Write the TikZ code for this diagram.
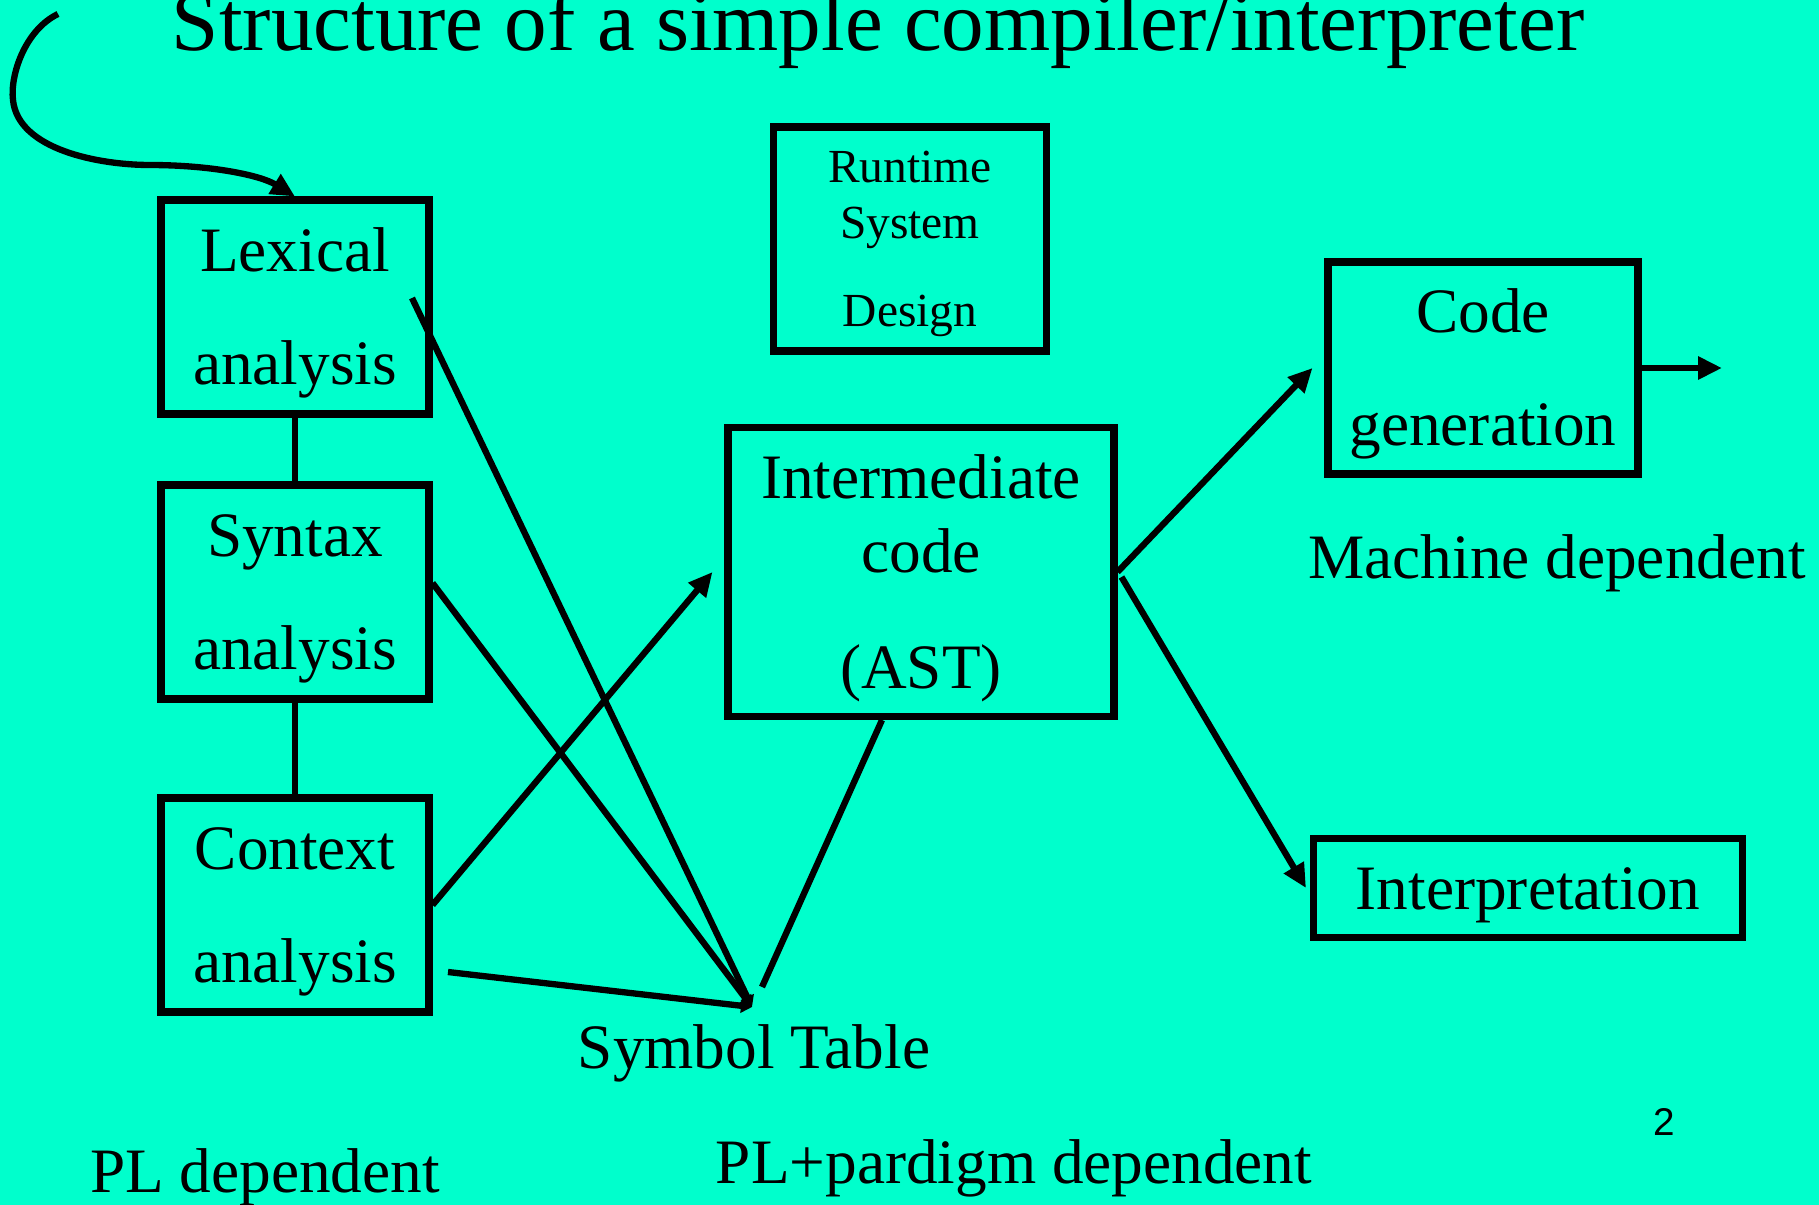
\documentclass[tikz,border=0pt]{standalone}
\usepackage{fontspec}
\setmainfont{Liberation Serif}
\newfontfamily\pagefont{Liberation Sans}
\usepackage{tikz}
\usetikzlibrary{arrows.meta,positioning,calc}
\definecolor{slidebg}{RGB}{0,255,204}
\newcommand{\phasestrut}{\rule{0pt}{0.88em}}

\begin{document}
\begin{tikzpicture}[
    x=0.1mm, y=-0.1mm,
    phase/.style={draw, line width=2pt, inner sep=0pt, align=center, font=\fontsize{18}{32}\selectfont},
    link/.style={line width=1.8pt},
    arrow/.style={line width=1.8pt, -{Triangle[length=2.4mm, width=2.2mm]}},
    tiny/.style={line width=1.8pt, -{Triangle[length=1.1mm, width=1.4mm]}},
    caption/.style={anchor=base, font=\fontsize{18}{22}\selectfont},
]
    \fill[slidebg] (0,0) rectangle (1819,1205);
    \useasboundingbox (0,0) rectangle (1819,1205);

    % Title
    \node[anchor=base, font=\fontsize{24.2}{28}\selectfont] (title) at (878,50) {Structure of a simple compiler/interpreter};

    % Front end
    \node[phase, minimum width=26.8mm, minimum height=21.4mm] (lexical) at (295,307) {\phasestrut Lexical\\analysis};
    \node[phase, minimum width=26.8mm, minimum height=21.4mm] (syntax) at (295,592) {\phasestrut Syntax\\analysis};
    \node[phase, minimum width=26.8mm, minimum height=21.4mm] (context) at (295,905) {\phasestrut Context\\analysis};

    % Middle
    \node[phase, minimum width=27.3mm, minimum height=22.4mm, font=\fontsize{13.5}{16}\selectfont] (runtime) at (910,239) {\phasestrut Runtime\\System\\[9pt]Design};
    \node[phase, minimum width=38.6mm, minimum height=28.9mm, font=\fontsize{18}{21}\selectfont] (ir) at (921,572) {\phasestrut Intermediate\\code\\[12pt](AST)};

    % Back end
    \node[phase, minimum width=31mm, minimum height=21.2mm] (codegen) at (1483,368) {\phasestrut Code\\generation};
    \node[phase, minimum width=42.9mm, minimum height=9.9mm] (interp) at (1528,888) {\phasestrut Interpretation};

    % Labels
    \node[caption] (symtab) at (754,1068) {Symbol Table};
    \node[caption] (machdep) at (1557,578) {Machine dependent};
    \node[caption] (pldep) at (265,1192) {PL dependent};
    \node[caption] (paradep) at (1014,1183) {PL+pardigm dependent};
    \node[anchor=base, font=\pagefont\fontsize{11}{13}\selectfont] (pagenum) at (1664,1135) {2};

    % Free ends
    \coordinate (start) at (58,14);
    \coordinate (stin) at (752,1007);
    \coordinate (lexout) at (412,298);
    \coordinate (ctxlow) at (448,972);
    \coordinate (astin) at (762,987);
    \coordinate (out) at (1722,368);

    % Connectors
    \draw[arrow] (start) .. controls (25,30) and (10,75) .. (13,100)
        .. controls (18,150) and (100,165) .. (150,165)
        .. controls (210,165) and (260,175) .. (lexical.north);
    \draw[link] (lexical.south) -- (syntax.north);
    \draw[link] (syntax.south) -- (context.north);
    \draw[tiny] (lexout) -- (stin);
    \draw[tiny] ($(syntax.east)+(0,-9)$) -- (stin);
    \draw[tiny] (ctxlow) -- (stin);
    \draw[arrow] (context.east) -- ($(ir.west)+(-12,0)$);
    \draw[link] ($(ir.south)+(-39,0)$) -- (astin);
    \draw[arrow] (ir.east) -- ($(codegen.west)+(-12,0)$);
    \draw[arrow] ($(ir.east)+(4,5)$) -- ($(interp.west)+(-4,0)$);
    \draw[arrow] (codegen.east) -- (out);
\end{tikzpicture}
\end{document}
